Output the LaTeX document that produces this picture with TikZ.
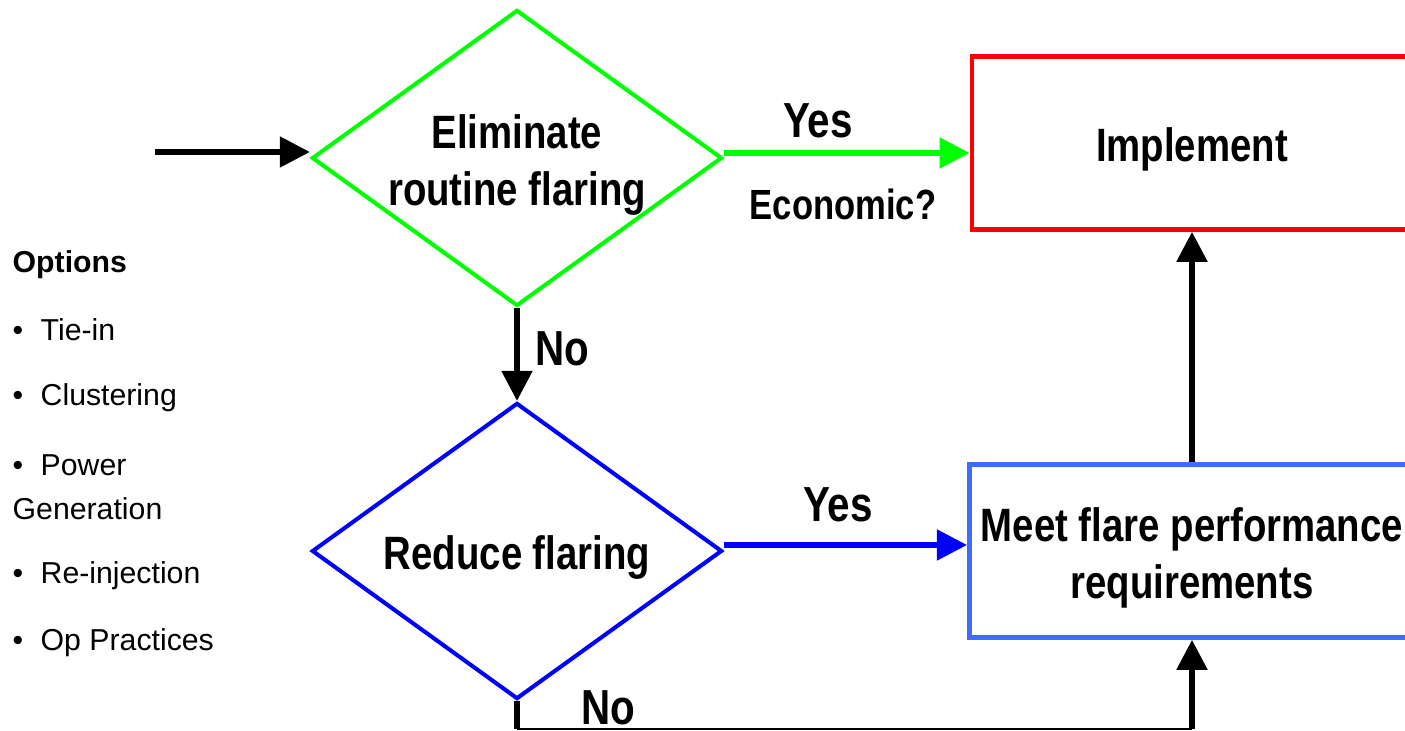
\documentclass[tikz,border=0pt]{standalone}
\usepackage{fontspec}
\setmainfont[FakeStretch=0.82]{Liberation Sans}
\newfontfamily\listfont{Liberation Sans}
\usetikzlibrary{shapes.geometric,arrows.meta}
\definecolor{boxblue}{RGB}{61,108,255}
\tikzset{
  drop/.style={execute at begin node={\rule{0pt}{#1}}},
  decision/.style={diamond,draw,line width=1.15pt,minimum width=4.1cm,
    minimum height=2.96cm,aspect=1.385,inner sep=0pt,align=center,drop=13.3pt,
    font=\fontsize{13.3}{16.2}\selectfont\bfseries},
  result/.style={rectangle,draw,line width=1.3pt,minimum width=4.4cm,
    minimum height=1.73cm,align=center,drop=13.3pt,
    font=\fontsize{13.3}{16.2}\selectfont\bfseries},
  flow/.style={line width=1.45pt,-{Triangle[length=0.3cm,width=0.3cm]}},
  tag/.style={font=\fontsize{14}{15}\selectfont\bfseries},
  opt/.style={anchor=west,inner sep=0pt,align=left,
    font=\listfont\fontsize{8.6}{12.5}\selectfont}
}
\begin{document}
\begin{tikzpicture}[x=0.01cm,y=-0.01cm]
      \useasboundingbox (0,0) rectangle (1405,731);
      \clip (0,0) rectangle (1405,731);
      \draw
        (517,158) node[decision,draw=green,drop=30pt,inner sep=-5pt] (elim){Eliminate\\routine flaring}
        (517,551) node[decision,draw=blue] (reduce){Reduce flaring}
        (1192,143) node[result,draw=red] (impl){Implement}
        (1192,551) node[result,draw=boxblue,drop=30pt] (meet){Meet flare performance\\requirements};
      \coordinate (start) at (155,152);
      \coordinate (c1) at (517,729);
      \coordinate (c2) at (1192,729);
      \node[tag] (yes1) at (818,121) {Yes};
      \node[font=\fontsize{12}{13}\selectfont\bfseries] (econ) at (843,204) {Economic?};
      \node[tag] (no1) at (562,349) {No};
      \node[tag] (yes2) at (838,505) {Yes};
      \node[tag] (no2) at (608,708) {No};
      \node[opt,font=\listfont\fontsize{8.6}{12.5}\selectfont\bfseries] (opts) at (12,265) {Options};
      \node[opt] (o1) at (12,330) {\makebox[0.28cm][l]{•}Tie-in};
      \node[opt] (o2) at (12,398) {\makebox[0.28cm][l]{•}Clustering};
      \node[opt] (o3) at (12,487) {\makebox[0.28cm][l]{•}Power\\Generation};
      \node[opt] (o4) at (12,576) {\makebox[0.28cm][l]{•}Re-injection};
      \node[opt] (o5) at (12,643) {\makebox[0.28cm][l]{•}Op Practices};
      \begin{scope}[flow]
        \draw (start) to (start -| elim.west);
        \draw[green] ([yshift=0.05cm]elim.east) to ([yshift=0.05cm]elim.east -| impl.west);
        \draw (elim.south) to (reduce.north);
        \draw[blue] ([yshift=0.06cm]reduce.east) to ([yshift=0.06cm]reduce.east -| meet.west);
        \draw (meet.north) to (impl.south);
        \draw[-] (reduce.south) to (c1);
        \draw (c2) to (meet.south);
      \end{scope}
      \draw[line width=0.6pt] (c1) -- (c2);
    \end{tikzpicture}
\end{document}
